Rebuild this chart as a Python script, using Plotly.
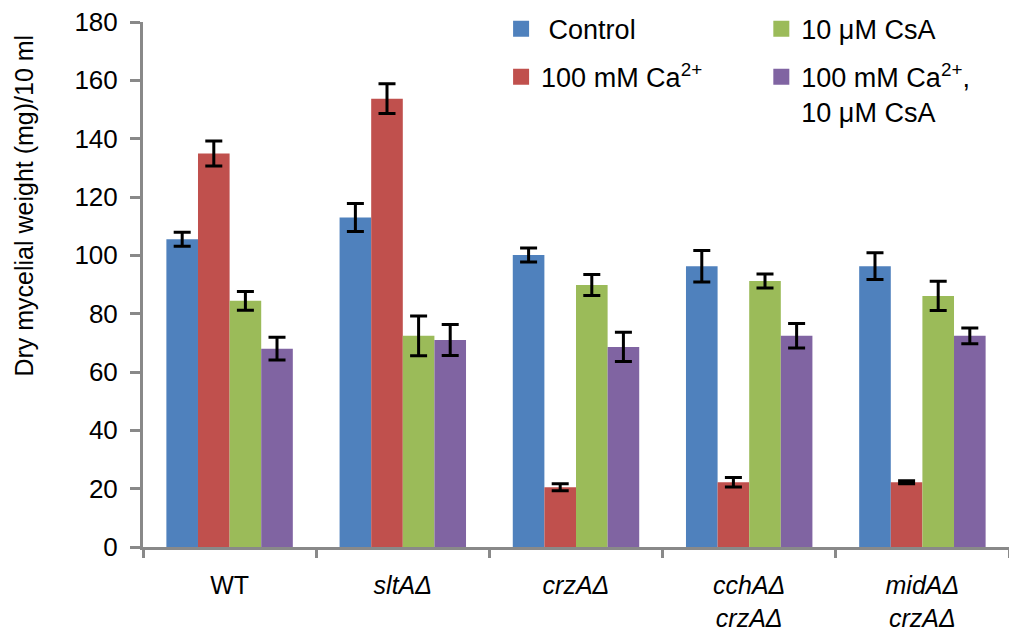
import plotly.graph_objects as go

categories = ["WT", "<i>sltAΔ</i>", "<i>crzAΔ</i>", "<i>cchAΔ</i><br><i>crzAΔ</i>", "<i>midAΔ</i><br><i>crzAΔ</i>"]

control = [105.5, 113.0, 100.1, 96.3, 96.3]
control_err = [2.4, 4.8, 2.4, 5.4, 4.6]
calcium = [134.9, 153.7, 20.5, 22.2, 22.2]
calcium_err = [4.3, 5.1, 1.2, 1.6, 0.5]
csa = [84.4, 72.4, 89.8, 91.2, 86.1]
csa_err = [3.2, 6.8, 3.6, 2.4, 5.0]
both = [68.0, 71.0, 68.6, 72.4, 72.4]
both_err = [3.9, 5.3, 5.0, 4.2, 2.7]

series_names = ["\u00a0Control", "100 mM Ca<sup>2+</sup>", "10 μM CsA", "100 mM Ca<sup>2+</sup>,<br>10 μM CsA"]
colors = ["#4F81BD", "#C0504D", "#9BBB59", "#8064A2"]
values = [control, calcium, csa, both]
errors = [control_err, calcium_err, csa_err, both_err]
legend_ids = ["legend", "legend", "legend2", "legend2"]

FONT = "Arial, Liberation Sans, sans-serif"

fig = go.Figure()
for name, col, v, e in zip(series_names, colors, values, errors):
    fig.add_trace(go.Bar(
        x=categories, y=v, name=name, marker_color=col, marker_line_width=0,
        error_y=dict(type="data", array=e, color="black", thickness=3, width=8.5),
        showlegend=False, hoverinfo="skip",
    ))

for i, (name, col, lg) in enumerate(zip(series_names, colors, legend_ids)):
    fig.add_trace(go.Scatter(
        x=[None], y=[None], mode="markers", name=name,
        marker=dict(symbol="square", size=20, color=col),
        legend=lg, legendgroup=f"g{i}", showlegend=True,
    ))

fig.update_layout(
    width=1009, height=632,
    margin=dict(l=143, r=0, t=22, b=83),
    paper_bgcolor="white", plot_bgcolor="white",
    barmode="group", bargap=0.27, bargroupgap=0,
    font=dict(family=FONT, size=25, color="black"),
    hovermode=False,
    legend=dict(x=0.4135, y=1.033, xanchor="left", yanchor="top",
                font=dict(size=27, family=FONT), traceorder="grouped",
                tracegroupgap=10, bgcolor="rgba(0,0,0,0)"),
    legend2=dict(x=0.714, y=1.033, xanchor="left", yanchor="top",
                 font=dict(size=27, family=FONT), traceorder="grouped",
                 tracegroupgap=10, valign="top", bgcolor="rgba(0,0,0,0)"),
)

fig.update_xaxes(
    type="category", range=[-0.5, 4.5],
    showline=True, linecolor="#898989", linewidth=3,
    ticks="outside", tickson="boundaries", ticklen=8, tickwidth=3, tickcolor="#898989",
    tickfont=dict(size=25, family=FONT, color="black"),
    ticklabelstandoff=14,
    showgrid=False, zeroline=False,
)
fig.update_yaxes(
    range=[0, 180], dtick=20,
    showline=True, linecolor="#898989", linewidth=3,
    ticks="outside", ticklen=10, tickwidth=3, tickcolor="#898989",
    tickfont=dict(size=26, family=FONT, color="black"),
    ticklabelstandoff=7,
    showgrid=False, zeroline=False,
)

fig.add_annotation(
    text="Dry mycelial weight (mg)/10 ml", textangle=-90,
    xref="paper", yref="paper", x=-0.137, y=0.651,
    xanchor="center", yanchor="middle", showarrow=False,
    font=dict(size=25, family=FONT, color="black"),
)

fig.write_html("out.html", config={"displayModeBar": False},
               post_script="document.body.style.margin='0';")
